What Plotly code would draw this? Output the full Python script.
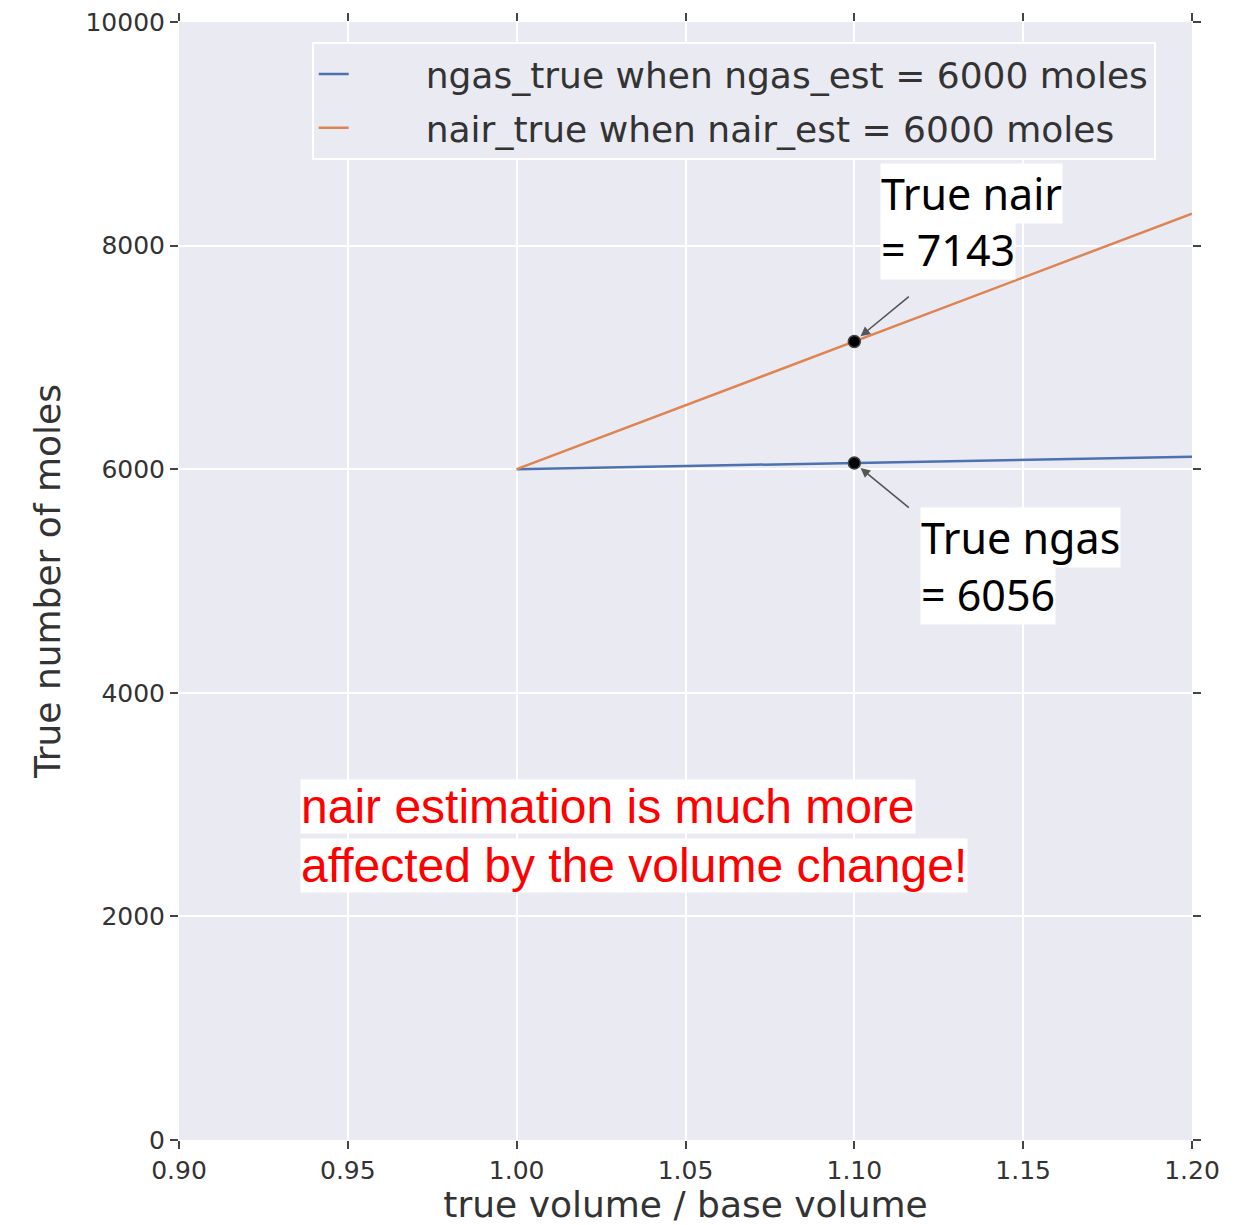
import plotly.graph_objects as go

# Ratio of true volume to base volume
volume_ratio = [1.00, 1.05, 1.10, 1.15, 1.20]

# True moles when the estimate is 6000 moles
ngas_true = [6000, 6028, 6056, 6084, 6112]
nair_true = [6000, 6571, 7143, 7714, 8286]

# Highlighted points at a ratio of 1.10
mark_x = 1.10
mark_ngas = 6056
mark_nair = 7143

legend_ngas = "ngas_true when ngas_est = 6000 moles"
legend_nair = "nair_true when nair_est = 6000 moles"

BLUE = "#4c72b0"
ORANGE = "#dd8452"
PANEL = "#eaeaf2"
TEXT = "#333333"
PAD = "\u2002" * 4

fig = go.Figure()
fig.add_trace(go.Scatter(x=volume_ratio, y=ngas_true, mode="lines", name=PAD + legend_ngas,
                         legendgroup="ngas", line=dict(color=BLUE, width=2.5)))
fig.add_trace(go.Scatter(x=volume_ratio, y=nair_true, mode="lines", name=PAD + legend_nair,
                         legendgroup="nair", line=dict(color=ORANGE, width=2.5)))
fig.add_trace(go.Scatter(x=[mark_x, mark_x], y=[mark_nair, mark_ngas], mode="markers",
                         showlegend=False,
                         marker=dict(color="black", size=12, line=dict(color="#444444", width=1.5))))

# Arrows pointing at the highlighted points
for yv, ay in [(mark_nair, -46), (mark_ngas, 46)]:
    fig.add_annotation(x=mark_x, y=yv, xref="x", yref="y", text="", showarrow=True,
                       ax=56, ay=ay, axref="pixel", ayref="pixel",
                       arrowhead=2, arrowsize=1.2, arrowwidth=1.6, arrowcolor="#555555",
                       standoff=8)

callout_font = dict(family="Noto Sans", size=43, color="black")
callouts = [
    (1.1076, 8740, "True nair"),
    (1.1076, 8240, "= 7143"),
    (1.1195, 5665, "True ngas"),
    (1.1195, 5150, "= 6056"),
]
for x, y, t in callouts:
    fig.add_annotation(x=x, y=y, xref="x", yref="y", text=t, showarrow=False,
                       xanchor="left", yanchor="top", align="left",
                       bgcolor="white", borderpad=0, font=callout_font)

note_font = dict(family="Liberation Sans", size=48, color="red")
for y, t in [(3225, "nair estimation is much more"),
             (2700, "affected by the volume change!")]:
    fig.add_annotation(x=0.9358, y=y, xref="x", yref="y", text=t, showarrow=False,
                       xanchor="left", yanchor="top", align="left",
                       bgcolor="white", borderpad=0, font=note_font)

axis_common = dict(
    showgrid=True, gridcolor="white", gridwidth=1.5,
    zeroline=False, showline=False, automargin=False,
    ticks="outside", ticklen=8, tickwidth=1.5, tickcolor="#444444",
    mirror="ticks",
    tickfont=dict(family="DejaVu Sans", size=25, color=TEXT),
)

fig.update_xaxes(range=[0.9, 1.2], dtick=0.05, tick0=0.9, tickformat=".2f",
                 title=dict(text="true volume / base volume",
                            font=dict(family="DejaVu Sans", size=36, color=TEXT),
                            standoff=23),
                 **axis_common)
fig.update_yaxes(range=[0, 10000], dtick=2000, tick0=0, tickformat="d",
                 title=dict(text="True number of moles",
                            font=dict(family="DejaVu Sans", size=36, color=TEXT),
                            standoff=13),
                 **axis_common)

fig.update_layout(
    width=1247, height=1225,
    margin=dict(l=179, r=55, t=22, b=85),
    plot_bgcolor=PANEL, paper_bgcolor="white",
    legend=dict(x=0.131, y=0.982, xanchor="left", yanchor="top",
                bgcolor=PANEL, bordercolor="white", borderwidth=2,
                font=dict(family="DejaVu Sans", size=36, color=TEXT),
                tracegroupgap=4),
)

fig.write_html("out.html")
